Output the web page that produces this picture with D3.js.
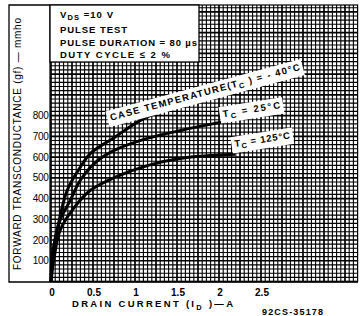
<!DOCTYPE html>
<html>
<head>
	<title>Forward Transconductance</title>
	<script type="text/javascript" src="https://cdnjs.cloudflare.com/ajax/libs/d3/7.8.5/d3.min.js"></script>
	<style>
		body { margin: 0; background: #fff; }
		text { font-family: "Liberation Sans", Arial, sans-serif; fill: #000; }
	</style>
</head>
<body>
	<svg id="chart" width="363" height="316"></svg>
	<script type="text/javascript">
		// drain current (A), transconductance (mmho)
		var gfMinus40 = [[0,0],[0.012,116],[0.072,246],[0.193,440],[0.349,551],[0.47,618],[0.76,696],[1.07,778],[1.40,836],[1.55,860],[1.78,889]];
		var gf25 = [[0,0],[0.036,174],[0.108,295],[0.229,391],[0.349,488],[0.518,570],[0.759,633],[1.157,691],[1.554,729],[1.964,763],[2.08,772]];
		var gf125 = [[0,0],[0.036,111],[0.108,246],[0.277,357],[0.47,440],[0.759,502],[1.157,560],[1.554,594],[1.964,609],[2.19,614]];

		var xTicks = [0, 0.5, 1, 1.5, 2, 2.5];
		var xTickLabels = ["0", "0.5", "1", "1.5", "2", "2.5"];
		var yTicks = [100, 200, 300, 400, 500, 600, 700, 800];

		var legendLines = ["PULSE TEST", "PULSE DURATION = 80 µs", "DUTY CYCLE ≤ 2 %"];

		var svg = d3.select("#chart");

		var x = d3.scaleLinear().domain([0, 3.65]).range([51, 357.6]);
		var y = d3.scaleLinear().domain([0, 1333]).range([281.5, 5]);

		//graph paper grid
		var grid = svg.append("g");
		d3.range(0, 73).forEach(function (i) {
			var v = i * 0.05;
			grid.append("line")
				.attr("x1", x(v)).attr("x2", x(v))
				.attr("y1", 5).attr("y2", 281.5)
				.attr("stroke", "#000")
				.attr("stroke-width", i % 5 == 0 ? 1.7 : 1.1);
		});
		d3.range(0, 67).forEach(function (i) {
			var v = i * 20;
			grid.append("line")
				.attr("x1", 50).attr("x2", 357.6)
				.attr("y1", y(v)).attr("y2", y(v))
				.attr("stroke", "#000")
				.attr("stroke-width", i % 5 == 0 ? 1.7 : 1.1);
		});

		//frame
		svg.append("rect")
			.attr("x", 50).attr("y", 5)
			.attr("width", 307.6).attr("height", 276.5)
			.attr("fill", "none").attr("stroke", "#000").attr("stroke-width", 1.2);
		svg.append("path")
			.attr("d", "M50,5H9V282H358")
			.attr("fill", "none").attr("stroke", "#000").attr("stroke-width", 1.3);

		//legend box
		svg.append("rect")
			.attr("x", 50).attr("y", 5)
			.attr("width", 149).attr("height", 57)
			.attr("fill", "#fff").attr("stroke", "#000").attr("stroke-width", 1.3);

		var vds = svg.append("text").attr("x", 60).attr("y", 18)
			.attr("font-size", 9.5).attr("font-weight", "bold")
			.attr("textLength", 53).attr("lengthAdjust", "spacing");
		vds.append("tspan").text("V");
		vds.append("tspan").attr("dy", 2).attr("font-size", 7.5).text("DS");
		vds.append("tspan").attr("dy", -2).text(" =10 V");

		var legendWidths = [67, 137, 110];
		legendLines.forEach(function (t, i) {
			svg.append("text")
				.attr("x", 60).attr("y", 33 + i * 12.5)
				.attr("font-size", 9.5).attr("font-weight", "bold")
				.attr("textLength", legendWidths[i]).attr("lengthAdjust", "spacing")
				.text(t);
		});

		//curves
		var line = d3.line()
			.x(function (d) { return x(d[0]); })
			.y(function (d) { return y(d[1]); })
			.curve(d3.curveCatmullRom.alpha(0.5));

		[gfMinus40, gf25, gf125].forEach(function (s) {
			svg.append("path")
				.attr("d", line(s))
				.attr("fill", "none")
				.attr("stroke", "#000")
				.attr("stroke-width", 3);
		});

		//curve labels
		function curveLabel(cur, gf, angle, len, parts) {
			var g = svg.append("g")
				.attr("transform", "translate(" + x(cur) + "," + y(gf) + ") rotate(" + angle + ")");
			var bg = g.append("rect").attr("fill", "#fff");
			var t = g.append("text")
				.attr("font-size", 9.5).attr("font-weight", "bold")
				.attr("textLength", len).attr("lengthAdjust", "spacing");
			parts.forEach(function (p) {
				var ts = t.append("tspan").text(p.t);
				if (p.sub) ts.attr("dy", 2.5).attr("font-size", 7.5);
				if (p.up) ts.attr("dy", -2.5);
			});
			var b = t.node().getBBox();
			bg.attr("x", b.x - 3).attr("y", b.y - 1.5)
				.attr("width", b.width + 6).attr("height", b.height + 3);
		}

		curveLabel(0.714, 775, -15, 196, [
			{t: "CASE TEMPERATURE(T"}, {t: "C", sub: true}, {t: " ) = - 40°C", up: true}
		]);
		curveLabel(2.05, 792, -9, 58, [
			{t: "T"}, {t: "C", sub: true}, {t: " = 25°C", up: true}
		]);
		curveLabel(2.19, 648, -9, 56, [
			{t: "T"}, {t: "C", sub: true}, {t: " = 125°C", up: true}
		]);

		//axis tick labels
		yTicks.forEach(function (v) {
			svg.append("text")
				.attr("x", 48.5).attr("y", y(v) + 3.5)
				.attr("text-anchor", "end")
				.attr("font-size", 10)
				.attr("letter-spacing", -0.3)
				.text(v);
		});
		xTicks.forEach(function (v, i) {
			svg.append("text")
				.attr("x", x(v) + 1).attr("y", 296)
				.attr("text-anchor", "middle")
				.attr("font-size", 10).attr("font-weight", "bold")
				.text(xTickLabels[i]);
		});

		//axis titles
		var xt = svg.append("text").attr("x", 72).attr("y", 307)
			.attr("font-size", 9.5).attr("font-weight", "bold")
			.attr("textLength", 161).attr("lengthAdjust", "spacing");
		xt.append("tspan").text("DRAIN  CURRENT  (I");
		xt.append("tspan").attr("dy", 2.5).attr("font-size", 7.5).text("D");
		xt.append("tspan").attr("dy", -2.5).text(" )—A");

		svg.append("text")
			.attr("transform", "translate(21,270) rotate(-90)")
			.attr("font-size", 10)
			.attr("textLength", 252).attr("lengthAdjust", "spacing")
			.text("FORWARD TRANSCONDUCTANCE (gf) — mmho");

		svg.append("text")
			.attr("x", 262).attr("y", 315)
			.attr("font-size", 9).attr("font-weight", "bold")
			.attr("textLength", 61).attr("lengthAdjust", "spacing")
			.text("92CS-35178");
	</script>
</body>
</html>
